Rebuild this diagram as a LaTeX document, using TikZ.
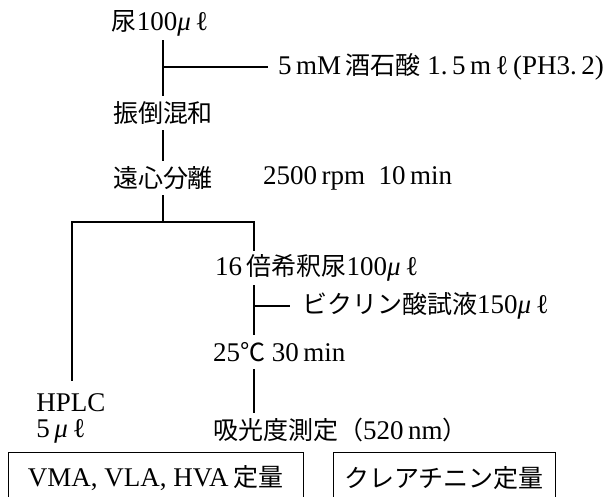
\documentclass[tikz,border=0pt]{standalone}
\usepackage{fontspec}
\setmainfont[Scale=1.08]{Liberation Serif}
\newfontfamily\jp{Noto Sans CJK JP}
\newcommand\J[1]{{\jp #1}}
\newcommand\ul{\textit{μ}\,ℓ}
\begin{document}
\begin{tikzpicture}[x=1pt,y=-1pt,
  every node/.style={font=\fontsize{25}{26}\selectfont, inner sep=0pt},
  stepnode/.style={minimum height=34pt},
  lbl/.style={anchor=west},
  ln/.style={line width=1.1pt},
  resbox/.style={draw, line width=0.9pt, minimum height=52pt}]
\clip (0,0) rectangle (606,497);
\fill[white] (0,0) rectangle (606,497);
% main column
\node[stepnode] (n1) at (160,23) {\J{尿}100\ul};
\node[stepnode] (n2) at (163,113) {\J{振倒混和}};
\node[stepnode] (n3) at (163,178) {\J{遠心分離}};
\coordinate (b1) at (163,67);
\node[lbl] (t1) at (278,67) {5\,mM\,\J{酒石酸}\ 1.\,5\,m\,ℓ\,(PH3.\,2)};
\node[lbl] (t2) at (263,178) {2500\,rpm\ \ 10\,min};
\coordinate (sp) at (163,222);
\coordinate (L) at (72,222);
\coordinate (R) at (254,222);
% right branch
\node[lbl, stepnode] (n4) at (215,268) {16\,\J{倍希釈尿}100\ul};
\coordinate (b2) at (254,306);
\node[lbl] (t3) at (302,306) {\J{ビクリン酸試液}150\ul};
\node[lbl, stepnode] (n5) at (213,352) {25\J{℃}\ 30\,min};
\node[lbl, stepnode] (n6) at (213,430) {\J{吸光度測定（}520\,nm\J{）}};
% left branch
\node[align=left, inner ysep=12pt] (hp) at (71,418) {HPLC\\5\,\ul};
% result boxes
\node[resbox, minimum width=295pt] (bx1) at (155.5,478) {VMA,\ VLA,\ HVA\,\J{定量}};
\node[resbox, minimum width=222pt] (bx2) at (444,478) {\J{クレアチニン定量}};
% connectors
\draw[ln] (n1.south -| n2.north) -- (n2.north);
\draw[ln] (n2) -- (n3);
\draw[ln, shorten >=10pt] (b1) -- (t1.west);
\draw[ln] (n3.south) -- (sp);
\draw[ln] (L |- hp.north) -- (L) -- (R) -- (R |- n4.north);
\draw[ln] (R |- n4.south) -- (R |- n5.north);
\draw[ln, shorten >=12pt] (b2) -- (t3.west);
\draw[ln] (R |- n5.south) -- (R |- n6.north);
\end{tikzpicture}
\end{document}
